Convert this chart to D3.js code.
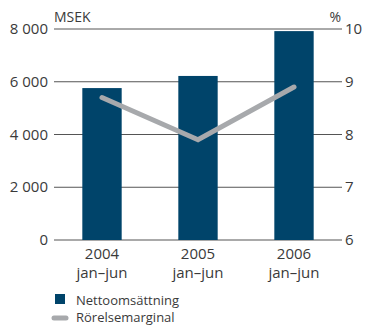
<!DOCTYPE html>
<html>
<head>
<meta charset="utf-8">
<script src="https://cdn.jsdelivr.net/npm/d3@7"></script>
<style>
body { margin: 0; background: #fff; }
text { font-family: "Open Sans", sans-serif; fill: #3a3a3a; }
</style>
</head>
<body>
<div id="chart"></div>
<script>
var years = ["2004", "2005", "2006"];
var period = ["jan–jun", "jan–jun", "jan–jun"];
var sales = [5760, 6220, 7920];
var margin = [8.7, 7.9, 8.9];
var leftTicks = [0, 2000, 4000, 6000, 8000];
var rightTicks = [6, 7, 8, 9, 10];

var width = 365, height = 326;
var svg = d3.select("#chart").append("svg")
    .attr("width", width)
    .attr("height", height);

var x = d3.scaleBand()
    .domain(years)
    .range([54, 342])
    .paddingInner(0.59)
    .paddingOuter(0.295);
var y = d3.scaleLinear().domain([0, 8000]).range([240, 29]);
var y2 = d3.scaleLinear().domain([6, 10]).range([240, 29]);

var fmt = function(d) { return d3.format(",")(d).replace(/,/g, " "); };

// gridlines
svg.selectAll(".grid").data(leftTicks)
    .enter().append("line")
    .attr("x1", 54).attr("x2", 342)
    .attr("y1", function(d) { return y(d); })
    .attr("y2", function(d) { return y(d); })
    .attr("stroke", "#555")
    .attr("stroke-width", 1);

svg.selectAll(".lt").data(leftTicks)
    .enter().append("text")
    .attr("x", 48)
    .attr("y", function(d) { return y(d) + 5; })
    .attr("text-anchor", "end")
    .style("font-size", "15px")
    .text(fmt);

svg.selectAll(".rt").data(rightTicks)
    .enter().append("text")
    .attr("x", 345)
    .attr("y", function(d) { return y2(d) + 5; })
    .style("font-size", "15px")
    .text(function(d) { return d; });

svg.append("text").attr("x", 54).attr("y", 22)
    .style("font-size", "14px").text("MSEK");
svg.append("text").attr("x", 341).attr("y", 22)
    .attr("text-anchor", "end")
    .style("font-size", "14px").text("%");

// bars
svg.selectAll(".bar").data(sales)
    .enter().append("rect")
    .attr("x", function(d, i) { return x(years[i]); })
    .attr("width", x.bandwidth())
    .attr("y", function(d) { return y(d); })
    .attr("height", function(d) { return y(0) - y(d); })
    .attr("fill", "#00446a");

// margin line
var line = d3.line()
    .x(function(d, i) { return x(years[i]) + x.bandwidth() / 2; })
    .y(function(d) { return y2(d); });
svg.append("path")
    .datum(margin)
    .attr("d", line)
    .attr("fill", "none")
    .attr("stroke", "#a7a9ac")
    .attr("stroke-width", 5)
    .attr("stroke-linecap", "round");

// x labels
svg.selectAll(".xl").data(years)
    .enter().append("text")
    .attr("x", function(d) { return x(d) + x.bandwidth() / 2; })
    .attr("y", 259)
    .attr("text-anchor", "middle")
    .style("font-size", "15px")
    .text(function(d) { return d; });
svg.selectAll(".xl2").data(period)
    .enter().append("text")
    .attr("x", function(d, i) { return x(years[i]) + x.bandwidth() / 2; })
    .attr("y", 278)
    .attr("text-anchor", "middle")
    .style("font-size", "15px")
    .text(function(d) { return d; });

// legend
svg.append("rect").attr("x", 55).attr("y", 294)
    .attr("width", 10).attr("height", 10).attr("fill", "#00446a");
svg.append("text").attr("x", 76).attr("y", 304.5)
    .style("font-size", "13px").text("Nettoomsättning");
svg.append("line").attr("x1", 54).attr("x2", 66)
    .attr("y1", 318).attr("y2", 318)
    .attr("stroke", "#a7a9ac").attr("stroke-width", 5)
    .attr("stroke-linecap", "round");
svg.append("text").attr("x", 76).attr("y", 322)
    .style("font-size", "13px").text("Rörelsemarginal");
</script>
</body>
</html>
